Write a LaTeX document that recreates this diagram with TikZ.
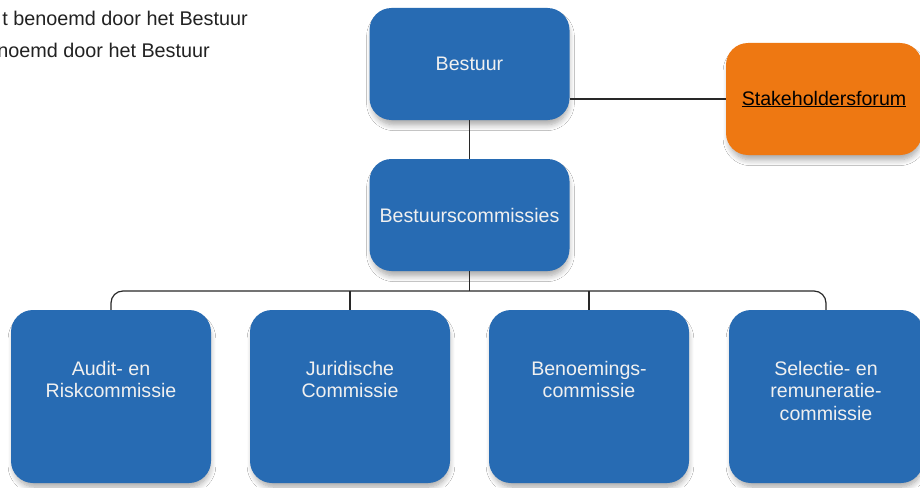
\documentclass[tikz,border=0pt]{standalone}
\usepackage{fontspec}
\setmainfont{Liberation Sans}
\usetikzlibrary{shadows.blur}
\definecolor{boxblue}{RGB}{39,107,179}
\definecolor{boxorange}{RGB}{238,120,18}
\definecolor{linegray}{RGB}{40,40,40}
\definecolor{legendtext}{RGB}{34,34,34}
\tikzset{
  x=1pt, y=-1pt,
  orgbox/.style={draw=none, rounded corners=22pt, inner sep=0pt,
    blur shadow={shadow xshift=1pt, shadow yshift=-6pt, shadow scale=0.98, shadow blur steps=8, shadow blur radius=6pt, shadow opacity=35}},
  bluebox/.style={orgbox, fill=boxblue},
  orangebox/.style={orgbox, fill=boxorange},
  boxtext/.style={text=white!94!black, font=\fontsize{19.6}{22.5}\selectfont, align=center, inner sep=0pt},
  conn/.style={draw=linegray, line width=1.2pt},
  legend/.style={text=legendtext, font=\fontsize{19.8}{22}\selectfont, inner sep=0pt, anchor=base east}
}
\begin{document}
\begin{tikzpicture}
\useasboundingbox (0,0) rectangle (920,487);
\fill[white] (0,0) rectangle (920,487);

% legend (cut off at left edge)
\node[legend] (leg1) at (248,26) {t benoemd door het Bestuur};
\node[legend] (leg2) at (210,57) {noemd door het Bestuur};

% boxes
\node[bluebox, minimum width=200pt, minimum height=112pt] (bestuur) at (469.5,64) {};
\node[boxtext] (bestuurT) at (bestuur.center) {Bestuur};

\node[bluebox, minimum width=200pt, minimum height=112pt] (bc) at (469.5,215) {};
\node[boxtext] (bcT) at (bc.center) {Bestuurscommissies};

\node[orangebox, minimum width=196pt, minimum height=112pt] (sf) at (824,99) {};
\node[boxtext, text=black] (sfT) at (sf.center) {\underline{Stakeholdersforum}};

\node[bluebox, minimum width=200pt, minimum height=173pt] (a1) at (111,396.5) {};
\node[bluebox, minimum width=200pt, minimum height=173pt] (a2) at (350,396.5) {};
\node[bluebox, minimum width=200pt, minimum height=173pt] (a3) at (589,396.5) {};
\node[bluebox, minimum width=194pt, minimum height=173pt] (a4) at (826,396.5) {};

\node[boxtext, anchor=north] (a1T) at ([yshift=-51pt]a1.north) {Audit- en\\Riskcommissie};
\node[boxtext, anchor=north] (a2T) at ([yshift=-51pt]a2.north) {Juridische\\Commissie};
\node[boxtext, anchor=north] (a3T) at ([yshift=-51pt]a3.north) {Benoemings-\\commissie};
\node[boxtext, anchor=north] (a4T) at ([yshift=-51pt]a4.north) {Selectie- en\\remuneratie-\\commissie};

% connectors
\draw[conn] (bestuur.south) -- (bc.north);
\draw[conn] (bestuur.east |- sf.west) -- (sf.west);
\coordinate (bus) at (469.5,291);
\draw[conn] (bc.south) -- (bus);
\draw[conn, rounded corners=12pt] (a1.north) -- (a1.north |- bus) -- (a4.north |- bus) -- (a4.north);
\draw[conn] (a2.north) -- (a2.north |- bus);
\draw[conn] (a3.north) -- (a3.north |- bus);
\end{tikzpicture}
\end{document}
